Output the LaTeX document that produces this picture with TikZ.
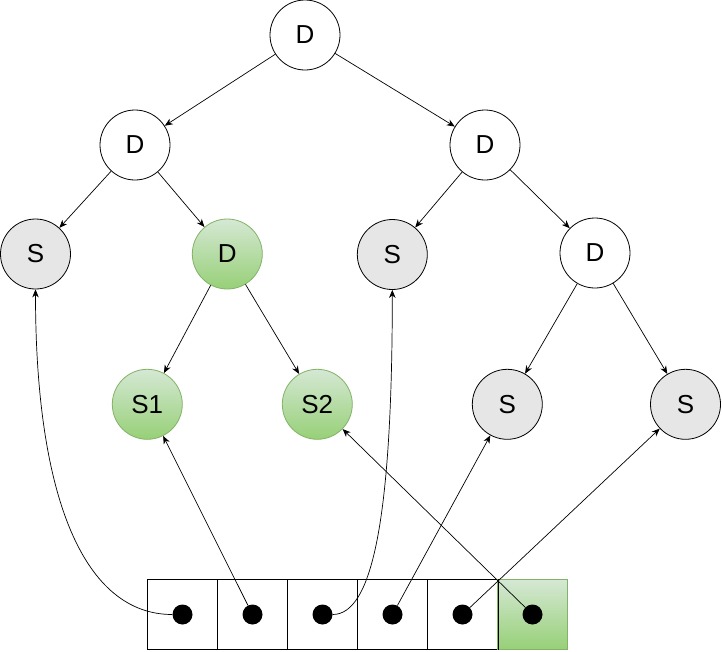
\documentclass[tikz,border=0pt]{standalone}
\usepackage{fontspec}
\setmainfont{Liberation Sans}
\usetikzlibrary{arrows.meta}
\definecolor{grayfill}{HTML}{E6E6E6}
\definecolor{gtop}{HTML}{D5E8D4}
\definecolor{gbot}{HTML}{97D077}
\definecolor{gborder}{HTML}{82B366}
\tikzset{
  circ/.style={circle, draw=black, line width=0.8pt, minimum size=70pt, inner sep=0pt, font=\fontsize{26}{30}\selectfont},
  wcirc/.style={circ, fill=white},
  gcirc/.style={circ, fill=grayfill},
  green/.style={circ, draw=gborder, top color=gtop, bottom color=gbot},
  cell/.style={rectangle, draw=black, line width=0.8pt, minimum size=70pt, inner sep=0pt, fill=white},
  gcell/.style={cell, draw=gborder, top color=gtop, bottom color=gbot},
  dot/.style={circle, fill=black, minimum size=20pt, inner sep=0pt},
  edge/.style={-{Stealth[length=8pt,width=6.5pt,inset=2.5pt]}, line width=0.7pt},
}
\begin{document}
\begin{tikzpicture}[x=1pt,y=-1pt]
\useasboundingbox (0,0) rectangle (722,651);
\fill[white] (0,0) rectangle (722,651);
% tree nodes
\node[wcirc] (r) at (305,35) {D};
\node[wcirc] (a) at (135,145) {D};
\node[wcirc] (b) at (485,145) {D};
\node[gcirc] (c) at (35.5,254) {S};
\node[green] (e) at (227.3,254) {D};
\node[gcirc] (f) at (392.3,254.5) {S};
\node[wcirc] (g) at (595,253) {D};
\node[green] (h) at (147.3,404.3) {S1};
\node[green] (i) at (317.3,404.3) {S2};
\node[gcirc] (j) at (507.3,404.3) {S};
\node[gcirc] (k) at (685.5,404.3) {S};
% array cells
\node[cell] (c1) at (182.5,614.5) {};
\node[cell] (c2) at (252.5,614.5) {};
\node[cell] (c3) at (322.5,614.5) {};
\node[cell] (c4) at (392.5,614.5) {};
\node[cell] (c5) at (462.5,614.5) {};
\node[gcell] (c6) at (532.5,614.5) {};
\draw[line width=0.8pt] (c5.north east) -- (c5.south east);
% dots
\node[dot] (d1) at (c1) {};
\node[dot] (d2) at (c2) {};
\node[dot] (d3) at (c3) {};
\node[dot] (d4) at (c4) {};
\node[dot] (d5) at (c5) {};
\node[dot] (d6) at (c6) {};
% tree edges
\draw[edge] (r) -- (a);
\draw[edge] (r) -- (b);
\draw[edge] (a) -- (c);
\draw[edge] (a) -- (e);
\draw[edge] (b) -- (f);
\draw[edge] (b) -- (g);
\draw[edge] (e) -- (h);
\draw[edge] (e) -- (i);
\draw[edge] (g) -- (j);
\draw[edge] (g) -- (k);
% pointer edges
\draw[edge] (d1.west) .. controls (85,614.5) and (35.5,500) .. (c.south);
\draw[edge] (d2) -- (h);
\draw[edge] (d3.east) .. controls (372,614.5) and (392.3,520) .. (f.south);
\draw[edge] (d4) -- (j);
\draw[edge] (d5) -- (k);
\draw[edge] (d6) -- (i);
\end{tikzpicture}
\end{document}
